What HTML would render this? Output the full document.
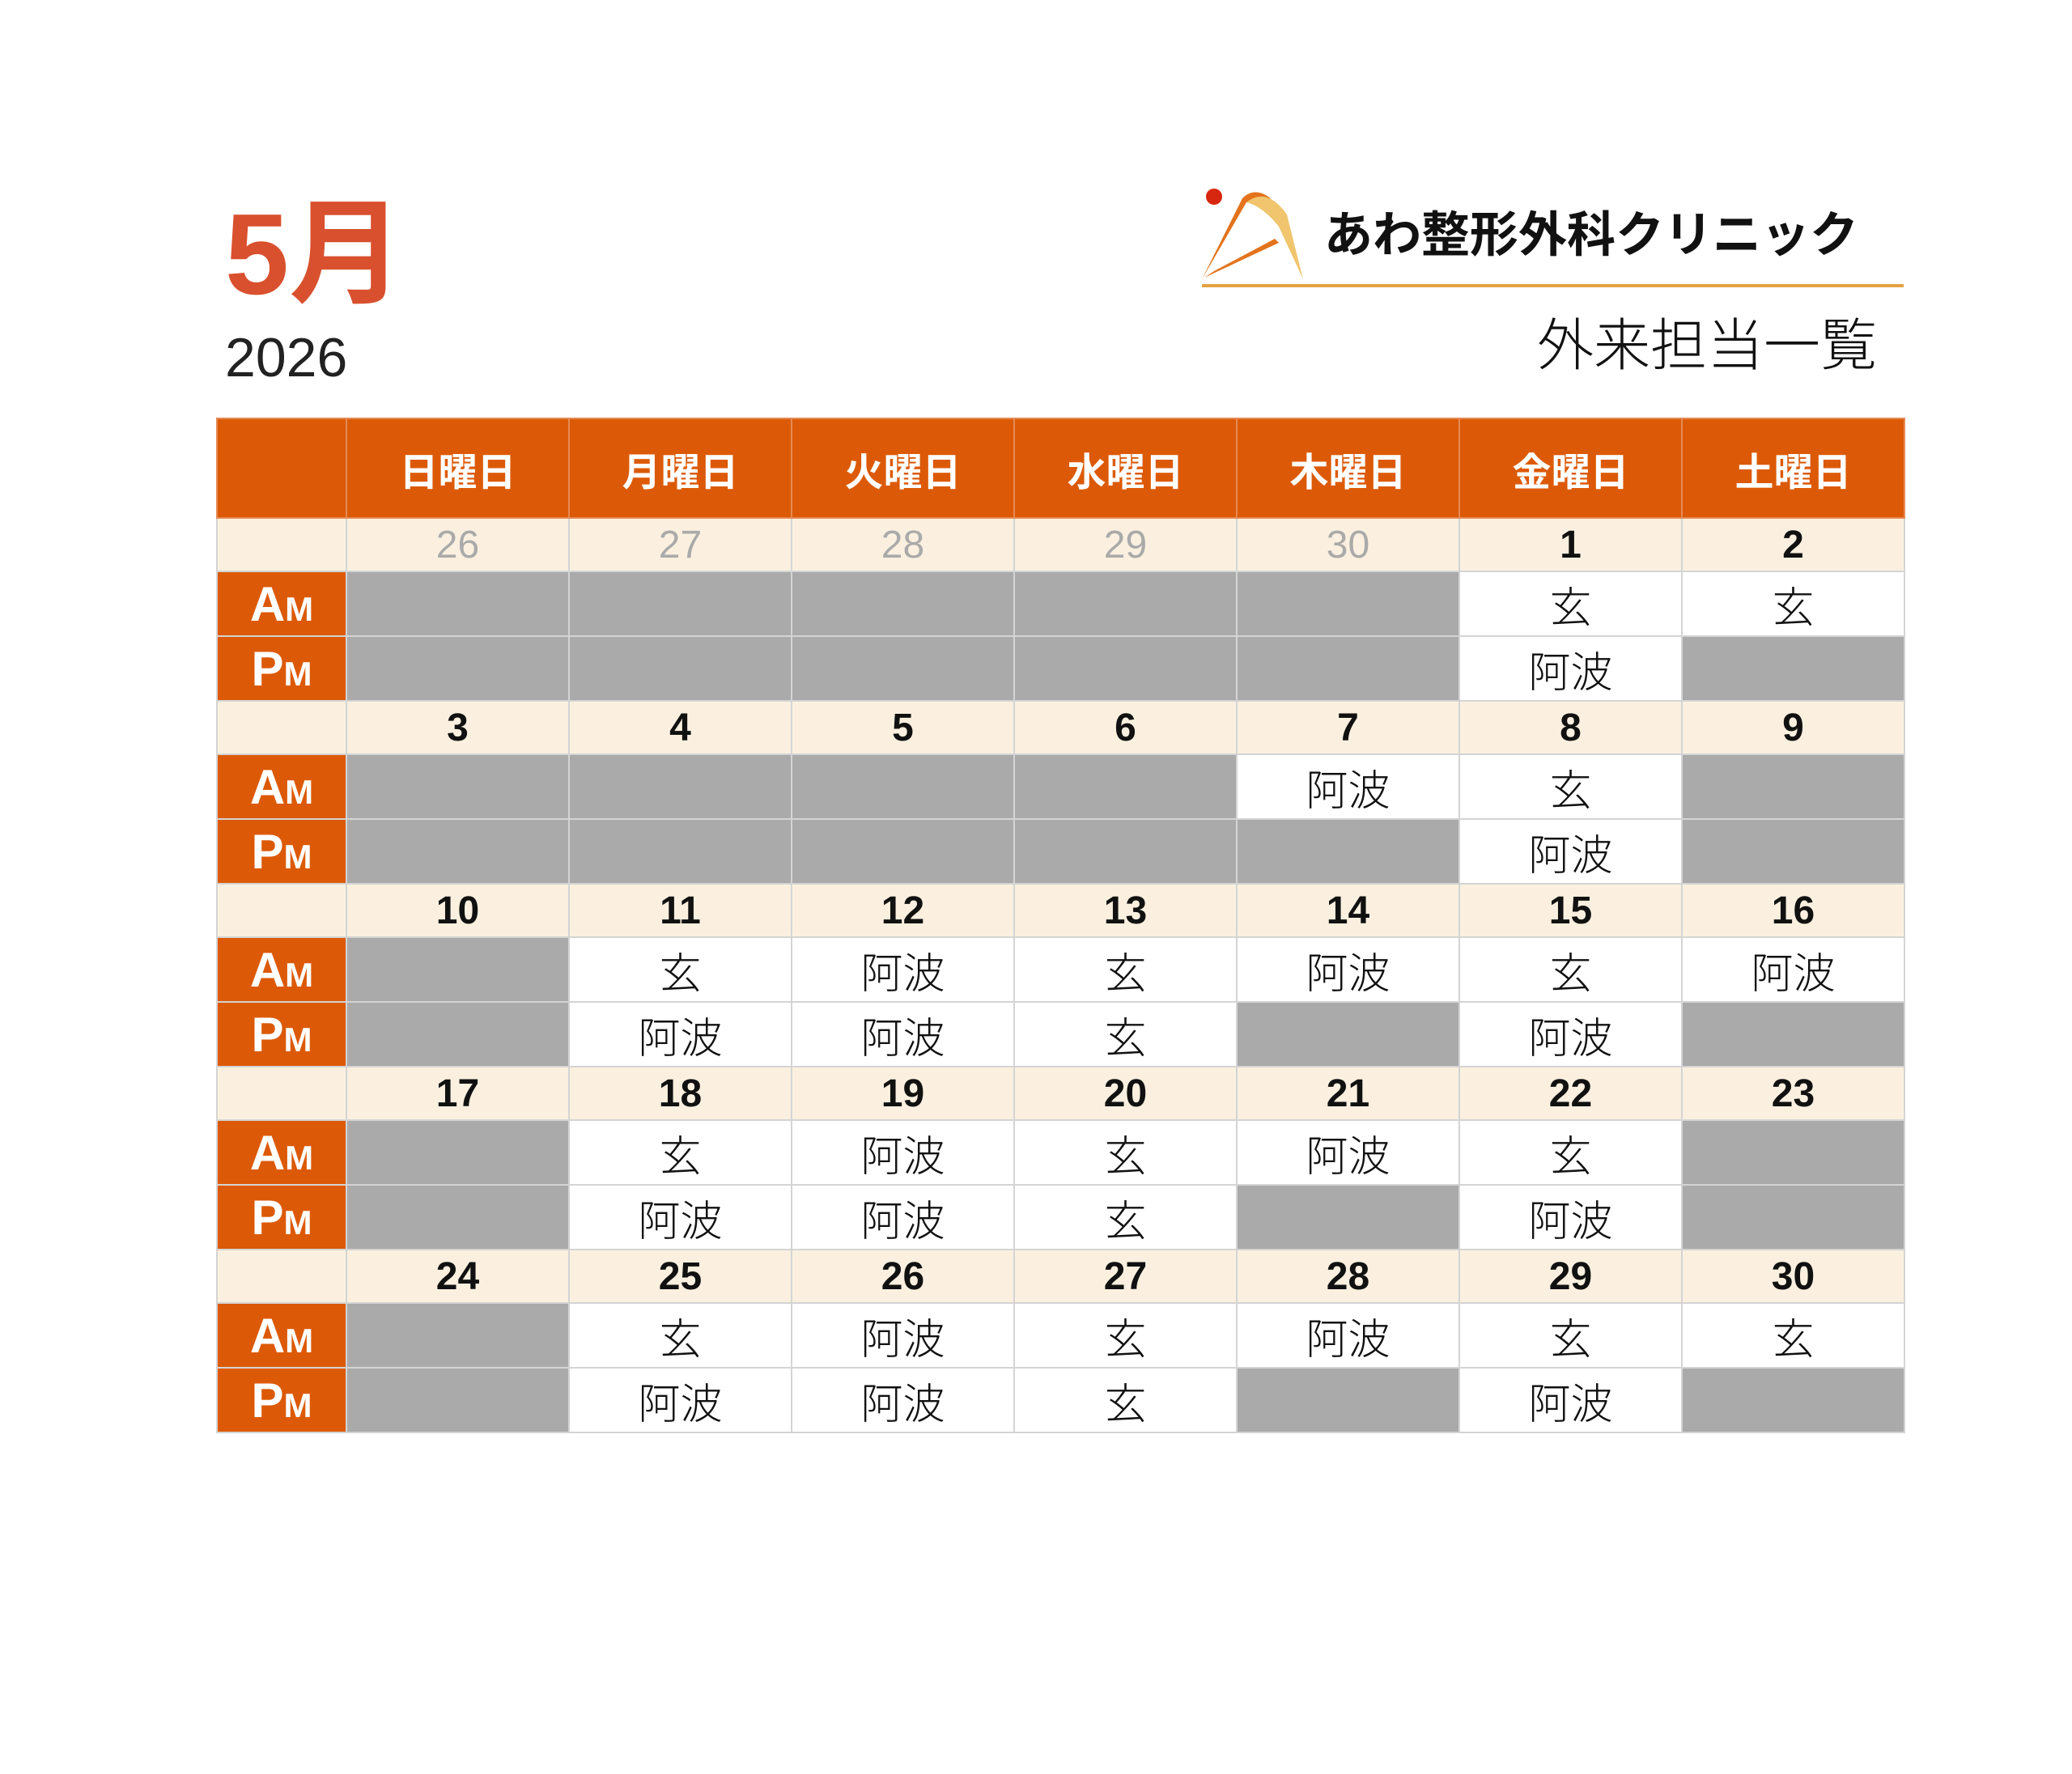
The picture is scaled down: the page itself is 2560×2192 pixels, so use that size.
<!DOCTYPE html>
<html><head><meta charset="utf-8"><style>
body{margin:0;width:2560px;height:2192px;background:#fff;position:relative;overflow:hidden;font-family:"Liberation Sans","Noto Sans CJK JP",sans-serif;}
.abs{position:absolute;white-space:nowrap;}
table{position:absolute;left:267px;top:516px;border-collapse:collapse;table-layout:fixed;width:2086px;}
td{border:2px solid #d4d4d4;padding:0;text-align:center;vertical-align:middle;overflow:hidden;}
tr.h td{height:121px;background:#dc5a07;color:#fff;font-weight:bold;font-size:48px;border-color:#e58a55;font-family:"Noto Sans CJK JP",sans-serif;}
tr.d td{height:64px;background:#fbf0df;font-weight:bold;font-size:48px;color:#111;}
tr.d td.o{color:#aaa;font-weight:normal;}
tr.a td,tr.p td{height:78px;background:#fff;font-size:52px;font-weight:300;color:#111;font-family:"Noto Sans CJK JP",sans-serif;}
td.g{background:#aaaaaa!important;}
td.l{background:#dc5a07!important;color:#fff!important;font-family:"Liberation Sans",sans-serif!important;font-weight:bold!important;font-size:60px!important;border-color:#d4d4d4;}
td.l small{font-size:42px;}
</style></head><body>
<div class="abs" style="left:278px;top:230px;font-size:142px;font-weight:bold;color:#d9502e;font-family:'Liberation Sans','Noto Sans CJK JP',sans-serif;line-height:1.2">5月</div>
<div class="abs" style="left:278px;top:408px;font-size:68px;color:#222;line-height:1">2026</div>
<svg class="abs" style="left:1480px;top:225px" width="140" height="125" viewBox="0 0 140 125">
<circle cx="20" cy="18" r="10" fill="#d8270f"/>
<path d="M5 120 L55 20 Q70 5 90 20 L60 25 Z" fill="#e3731c"/>
<path d="M60 25 Q85 5 110 40 L130 120 L100 55 Q80 30 60 25Z" fill="#f0c56e"/>
<path d="M8 118 L100 75 L95 70 L20 110Z" fill="#e3731c"/>
</svg>
<div class="abs" style="left:1636px;top:250px;font-size:60px;font-weight:bold;color:#111;line-height:1.2;font-family:'Noto Sans CJK JP',sans-serif;">あわ整形外科クリニック</div>
<div class="abs" style="left:1485px;top:351px;width:867px;height:4px;background:#e3a244"></div>
<div class="abs" style="left:1899px;top:380px;font-size:70px;color:#111;font-weight:300;line-height:1.2;font-family:'Noto Sans CJK JP',sans-serif;">外来担当一覧</div>
<table>
<colgroup><col style="width:160px"><col span="7" style="width:275px"></colgroup>
<tr class="h"><td></td><td>日曜日</td><td>月曜日</td><td>火曜日</td><td>水曜日</td><td>木曜日</td><td>金曜日</td><td>土曜日</td></tr>
<tr class="d"><td></td><td class="o">26</td><td class="o">27</td><td class="o">28</td><td class="o">29</td><td class="o">30</td><td>1</td><td>2</td></tr>
<tr class="a"><td class="l">A<small>M</small></td><td class="g"></td><td class="g"></td><td class="g"></td><td class="g"></td><td class="g"></td><td>玄</td><td>玄</td></tr>
<tr class="p"><td class="l">P<small>M</small></td><td class="g"></td><td class="g"></td><td class="g"></td><td class="g"></td><td class="g"></td><td>阿波</td><td class="g"></td></tr>
<tr class="d"><td></td><td>3</td><td>4</td><td>5</td><td>6</td><td>7</td><td>8</td><td>9</td></tr>
<tr class="a"><td class="l">A<small>M</small></td><td class="g"></td><td class="g"></td><td class="g"></td><td class="g"></td><td>阿波</td><td>玄</td><td class="g"></td></tr>
<tr class="p"><td class="l">P<small>M</small></td><td class="g"></td><td class="g"></td><td class="g"></td><td class="g"></td><td class="g"></td><td>阿波</td><td class="g"></td></tr>
<tr class="d"><td></td><td>10</td><td>11</td><td>12</td><td>13</td><td>14</td><td>15</td><td>16</td></tr>
<tr class="a"><td class="l">A<small>M</small></td><td class="g"></td><td>玄</td><td>阿波</td><td>玄</td><td>阿波</td><td>玄</td><td>阿波</td></tr>
<tr class="p"><td class="l">P<small>M</small></td><td class="g"></td><td>阿波</td><td>阿波</td><td>玄</td><td class="g"></td><td>阿波</td><td class="g"></td></tr>
<tr class="d"><td></td><td>17</td><td>18</td><td>19</td><td>20</td><td>21</td><td>22</td><td>23</td></tr>
<tr class="a"><td class="l">A<small>M</small></td><td class="g"></td><td>玄</td><td>阿波</td><td>玄</td><td>阿波</td><td>玄</td><td class="g"></td></tr>
<tr class="p"><td class="l">P<small>M</small></td><td class="g"></td><td>阿波</td><td>阿波</td><td>玄</td><td class="g"></td><td>阿波</td><td class="g"></td></tr>
<tr class="d"><td></td><td>24</td><td>25</td><td>26</td><td>27</td><td>28</td><td>29</td><td>30</td></tr>
<tr class="a"><td class="l">A<small>M</small></td><td class="g"></td><td>玄</td><td>阿波</td><td>玄</td><td>阿波</td><td>玄</td><td>玄</td></tr>
<tr class="p"><td class="l">P<small>M</small></td><td class="g"></td><td>阿波</td><td>阿波</td><td>玄</td><td class="g"></td><td>阿波</td><td class="g"></td></tr>
</table>
</body></html>
